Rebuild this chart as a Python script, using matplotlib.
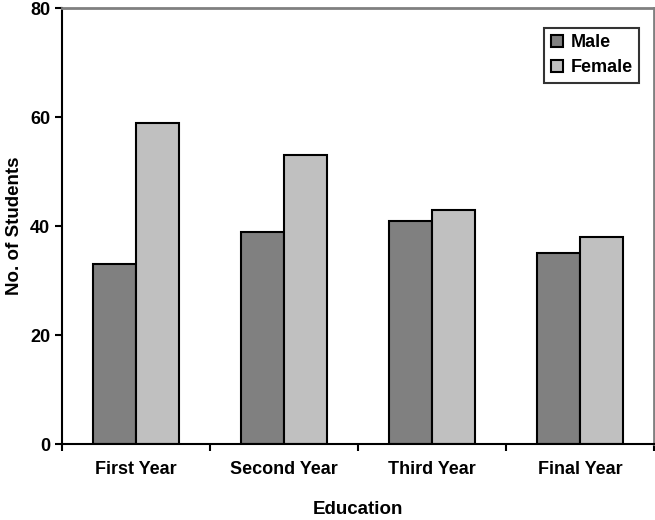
import matplotlib.pyplot as plt
import numpy as np

categories = ['First Year', 'Second Year', 'Third Year', 'Final Year']
male = [33, 39, 41, 35]
female = [59, 53, 43, 38]

plt.rcParams['font.family'] = ['Liberation Sans', 'DejaVu Sans']
plt.rcParams['font.weight'] = 'bold'

fig = plt.figure(figsize=(6.55, 5.2), dpi=100)
ax = fig.add_axes([0.0947, 0.146, 0.9038, 0.8385])

x = np.arange(len(categories))
w = 0.29
ax.bar(x - w / 2, male, w, color='#808080', edgecolor='black', linewidth=1.5, label='Male')
ax.bar(x + w / 2, female, w, color='#c0c0c0', edgecolor='black', linewidth=1.5, label='Female')

ax.set_xlim(-0.5, len(categories) - 0.5)
ax.set_ylim(0, 80)
ax.set_yticks([0, 20, 40, 60, 80])
ax.set_xticks(x)
ax.set_xticklabels(categories)
ax.set_xticks(np.arange(len(categories) + 1) - 0.5, minor=True)
ax.tick_params(axis='x', which='major', length=0, pad=12, labelsize=13)
ax.tick_params(axis='x', which='minor', length=5, width=1.5, direction='out')
ax.tick_params(axis='y', length=5, width=1.5, direction='out', labelsize=13)

for s in ['left', 'bottom']:
    ax.spines[s].set_linewidth(1.5)
    ax.spines[s].set_color('black')
for s in ['top', 'right']:
    ax.spines[s].set_linewidth(2)
    ax.spines[s].set_color('#808080')

ax.set_xlabel('Education', fontsize=13.5, fontweight='bold', labelpad=17)
ax.set_ylabel('No. of Students', fontsize=13.5, fontweight='bold', labelpad=5)

leg = ax.legend(loc='upper right', bbox_to_anchor=(0.99, 0.975), fancybox=False,
                edgecolor='black', fontsize=13, handlelength=0.7, handleheight=0.7,
                handletextpad=0.4, borderpad=0.35, labelspacing=0.45)
leg.get_frame().set_linewidth(1.5)

fig.savefig('out.png', dpi=100)
